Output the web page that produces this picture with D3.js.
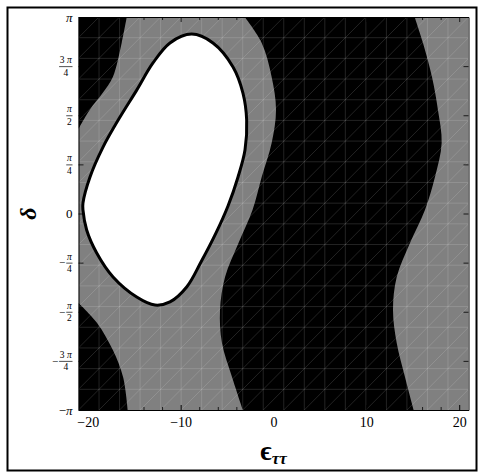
<!DOCTYPE html>
<html>
<head>
<meta charset="utf-8">
<script src="https://cdn.jsdelivr.net/npm/d3@7"></script>
<style>
  body { margin: 0; background: #fff; }
  svg { display: block; }
</style>
</head>
<body>
<div id="chart"></div>
<script>
// region boundaries: delta in units of pi, eps_tautau
// top-left black region, from the top edge down to the left edge
const leftTopDelta = [1.0, 0.868, 0.695, 0.613, 0.527, 0.43]
const leftTopEps   = [-15.8, -16.35, -17.3, -18.4, -19.8, -21]
// bottom-left black region, from the left edge down to the bottom edge
const leftBottomDelta = [-0.455, -0.557, -0.695, -0.832, -1.0]
const leftBottomEps   = [-21, -19.0, -17.3, -16.2, -15.7]
// middle black band
const bandDelta = [1.0, 0.868, 0.695, 0.527, 0.359, 0.186, 0.018, -0.15, -0.323, -0.491, -0.659, -0.832, -1.0]
const bandLeftEps  = [-3.1, -1.27, -0.2, 0.27, -0.2, -1.27, -2.26, -3.77, -5.22, -5.76, -5.55, -4.47, -3.3]
const bandRightEps = [15.2, 16.1, 17.07, 17.71, 18.11, 17.39, 16.31, 14.7, 13.27, 12.87, 13.27, 14.16, 15.1]
// white island (closed curve, clockwise from the top)
const ovalEps   = [-8.81, -6.52, -4.36, -3.29, -2.89, -3.07, -3.82, -4.9, -6.19, -7.81, -9.35, -11.15, -12.76, -14.73, -17.28, -19.04, -20.12, -20.52, -20.52, -19.76, -18.36, -16.53, -14.73, -12.98, -11.15]
const ovalDelta = [0.913, 0.868, 0.746, 0.613, 0.476, 0.323, 0.186, 0.038, -0.099, -0.247, -0.374, -0.45, -0.466, -0.425, -0.323, -0.201, -0.084, 0.018, 0.053, 0.186, 0.338, 0.491, 0.628, 0.766, 0.868]

// ticks
const xMajor = [-20, -10, 0, 10, 20]
const xMinor = [-18, -16, -14, -12, -8, -6, -4, -2, 2, 4, 6, 8, 12, 14, 16, 18]
const yMajor = [-1, -0.75, -0.5, -0.25, 0, 0.25, 0.5, 0.75, 1]
const yLabels = ["−π", "−3 π/4", "−π/2", "−π/4", "0", "π/4", "π/2", "3 π/4", "π"]

const width = 481, height = 473
const serif = "'Liberation Serif', 'Times New Roman', serif"

const svg = d3.select("#chart").append("svg")
    .attr("width", width)
    .attr("height", height)

const x = d3.scaleLinear().domain([-21, 21]).range([78.5, 468.5])
const y = d3.scaleLinear().domain([-1, 1]).range([410, 17])   // delta / pi

const pw = x(21) - x(-21), ph = y(-1) - y(1)

// outer frame
svg.append("rect")
    .attr("x", 7.5).attr("y", 7.5)
    .attr("width", 469).attr("height", 463)
    .attr("fill", "none")
    .attr("stroke", "black")
    .attr("stroke-width", 2)

svg.append("clipPath").attr("id", "plot-clip")
    .append("rect")
    .attr("x", x(-21)).attr("y", y(1))
    .attr("width", pw).attr("height", ph)

const plot = svg.append("g").attr("clip-path", "url(#plot-clip)")

// gray background region
plot.append("rect")
    .attr("x", x(-21)).attr("y", y(1))
    .attr("width", pw).attr("height", ph)
    .attr("fill", "#808080")

const curve = d3.line()
    .x(d => x(d[0]))
    .y(d => y(d[1]))
    .curve(d3.curveCatmullRom)

const pts = (eps, del) => eps.map((e, i) => [e, del[i]])

// black regions
let topLeft = curve(pts(leftTopEps, leftTopDelta)) + "L" + x(-21) + "," + y(1) + "Z"
let bottomLeft = curve(pts(leftBottomEps, leftBottomDelta)) + "L" + x(-21) + "," + y(-1) + "Z"
let band = curve(pts(bandLeftEps, bandDelta)) +
    curve(pts(bandRightEps, bandDelta).reverse()).replace(/^M/, "L") + "Z"

plot.selectAll("path.black")
    .data([topLeft, bottomLeft, band])
    .enter()
    .append("path")
    .attr("class", "black")
    .attr("d", d => d)
    .attr("fill", "black")

// faint sampling mesh, like the one the region plot leaves behind
const n = 19
const mx = d3.scaleLinear().domain([0, n]).range([x(-21), x(21)])
const my = d3.scaleLinear().domain([0, n]).range([y(-1), y(1)])
const mesh = plot.append("g")
    .attr("stroke", "white")
    .attr("stroke-opacity", 0.2)
    .attr("stroke-width", 0.7)
d3.range(1, n).forEach(function (i) {
    mesh.append("line").attr("x1", mx(i)).attr("x2", mx(i)).attr("y1", my(0)).attr("y2", my(n))
    mesh.append("line").attr("y1", my(i)).attr("y2", my(i)).attr("x1", mx(0)).attr("x2", mx(n))
})
d3.range(-n, n).forEach(function (k) {
    mesh.append("line")
        .attr("x1", mx(k)).attr("y1", my(0))
        .attr("x2", mx(k + n)).attr("y2", my(n))
})

// white island with its outline
plot.append("path")
    .attr("d", d3.line()
        .x(d => x(d[0]))
        .y(d => y(d[1]))
        .curve(d3.curveCatmullRomClosed)(pts(ovalEps, ovalDelta)))
    .attr("fill", "white")
    .attr("stroke", "black")
    .attr("stroke-width", 3)

// frame and ticks (inward, all four sides)
function ticks(axis, vals, size, transform) {
    svg.append("g")
        .attr("transform", transform)
        .call(axis.tickValues(vals).tickSize(-size).tickSizeOuter(0).tickFormat(""))
        .call(g => g.selectAll("line").attr("stroke-width", 0.8))
}
ticks(d3.axisBottom(x), xMinor, 3, "translate(0," + y(-1) + ")")
ticks(d3.axisTop(x), xMinor, 3, "translate(0," + y(1) + ")")
ticks(d3.axisTop(x), xMajor, 5, "translate(0," + y(1) + ")")
ticks(d3.axisLeft(y), yMajor, 5, "translate(" + x(-21) + ",0)")
ticks(d3.axisRight(y), yMajor, 5, "translate(" + x(21) + ",0)")

// bottom axis with numbers
svg.append("g")
    .attr("transform", "translate(0," + y(-1) + ")")
    .call(d3.axisBottom(x).tickValues(xMajor).tickSize(-5).tickSizeOuter(0).tickPadding(7))
    .call(g => g.selectAll("text")
        .attr("font-family", serif)
        .attr("font-size", 14)
        .attr("fill", "black"))

// left tick labels, fractions of pi
const lab = svg.append("g")
    .attr("font-family", serif)
    .attr("fill", "black")
const right = x(-21) - 6

// writes a string with pi set in italic
function piText(sel, s) {
    s.split(/(π)/).filter(t => t.length).forEach(function (t) {
        sel.append("tspan")
            .attr("font-style", t == "π" ? "italic" : "normal")
            .text(t)
    })
    return sel
}

yMajor.forEach(function (v, i) {
    let s = yLabels[i]
    let gy = y(v)
    if (s.indexOf("/") < 0) {
        piText(lab.append("text")
            .attr("x", right).attr("y", gy)
            .attr("dy", "0.35em")
            .attr("text-anchor", "end")
            .attr("font-size", 13), s)
        return
    }
    let neg = s[0] == "−"
    let parts = (neg ? s.slice(1) : s).split("/")
    let num = piText(lab.append("text")
        .attr("y", gy - 3)
        .attr("text-anchor", "middle")
        .attr("font-size", 9.5), parts[0])
    let den = lab.append("text")
        .attr("y", gy + 9.5)
        .attr("text-anchor", "middle")
        .attr("font-size", 9.5)
        .text(parts[1])
    let w = Math.max(num.node().getComputedTextLength(), den.node().getComputedTextLength()) + 1.5
    num.attr("x", right - w / 2)
    den.attr("x", right - w / 2)
    lab.append("line")
        .attr("x1", right - w).attr("x2", right)
        .attr("y1", gy + 0.5).attr("y2", gy + 0.5)
        .attr("stroke", "black")
        .attr("stroke-width", 0.7)
    if (neg) {
        lab.append("text")
            .attr("x", right - w - 1)
            .attr("y", gy)
            .attr("dy", "0.35em")
            .attr("text-anchor", "end")
            .attr("font-size", 11)
            .text("−")
    }
})

// axis titles
let xt = svg.append("text")
    .attr("x", (x(-21) + x(21)) / 2)
    .attr("y", 460)
    .attr("text-anchor", "middle")
    .attr("font-family", serif)
    .attr("font-weight", "bold")
    .attr("fill", "black")
xt.append("tspan").attr("font-size", 27).text("ϵ")
xt.append("tspan").attr("font-size", 17).attr("font-style", "italic").attr("dy", 4).text("ττ")

svg.append("text")
    .attr("transform", "translate(36," + ((y(-1) + y(1)) / 2) + ") rotate(-90)")
    .attr("text-anchor", "middle")
    .attr("font-family", serif)
    .attr("font-weight", "bold")
    .attr("font-style", "italic")
    .attr("font-size", 24)
    .attr("fill", "black")
    .text("δ")
</script>
</body>
</html>
